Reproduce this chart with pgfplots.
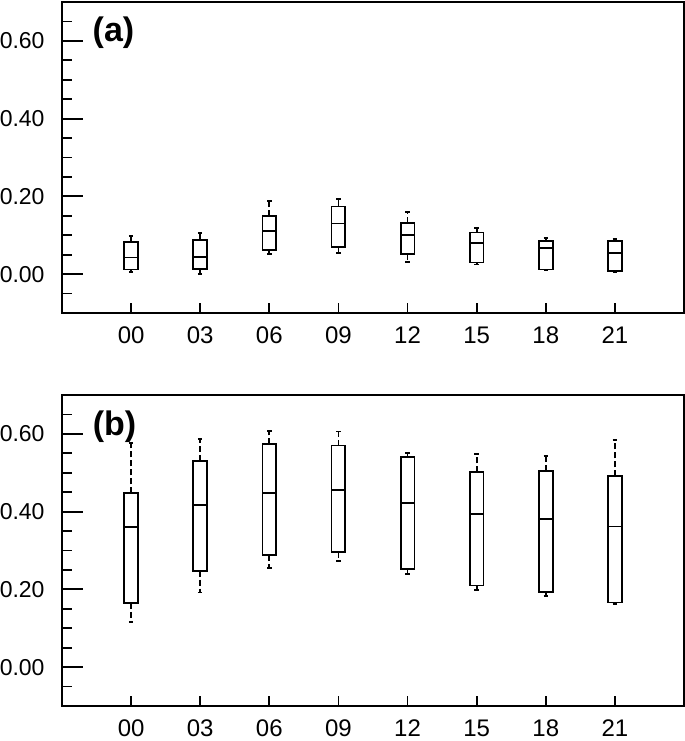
\documentclass[border=0pt]{standalone}
\usepackage{fontspec}
\setmainfont{Liberation Sans}
\usepackage{pgfplots}
\pgfplotsset{compat=1.18}
\usepgfplotslibrary{statistics}
\pgfplotsset{
  panel/.style={
    scale only axis, width=311pt, height=155.5pt,
    xmin=-1, xmax=8, ymin=-0.1, ymax=0.7,
    xtick={0,...,7}, xticklabels={00,03,06,09,12,15,18,21},
    ytick={0,0.2,0.4,0.6},
    minor ytick={-0.05,0.05,0.1,0.15,0.25,0.3,0.35,0.45,0.5,0.55,0.65},
    tick align=inside, tick pos=left,
    major tick length=10.5pt, minor tick length=5.25pt,
    xtick style={/pgfplots/major tick length=5pt},
    tick style={black, line width=0.9pt},
    axis line style={line width=1pt},
    /pgf/number format/assume math mode=true,
    tick label style={font=\fontsize{12}{14}\selectfont},
    y tick label style={/pgf/number format/.cd, fixed, fixed zerofill, precision=2, /tikz/.cd, font=\fontsize{11.5}{14}\selectfont, xshift=-5.2pt},
    x tick label style={yshift=-3.5pt},
    boxplot/draw direction=y,
    boxplot/box extend=0.2, boxplot/whisker extend=0.065,
    boxplot/every whisker/.style={dash pattern=on 3pt off 1.5pt},
  }
}
\newcommand\bx[6]{\addplot[black, line width=0.9pt, boxplot prepared={draw position=#1, lower whisker=#2, lower quartile=#3, median=#4, upper quartile=#5, upper whisker=#6}] coordinates {};}
\begin{document}
\begin{tikzpicture}
\begin{axis}[panel, name=a, at={(0,196.5pt)}, anchor=south west]
\bx{0}{0.006}{0.012}{0.043}{0.083}{0.098}
\bx{1}{0.000}{0.014}{0.045}{0.087}{0.105}
\bx{2}{0.051}{0.063}{0.111}{0.149}{0.188}
\bx{3}{0.055}{0.070}{0.130}{0.174}{0.194}
\bx{4}{0.032}{0.051}{0.101}{0.132}{0.159}
\bx{5}{0.025}{0.030}{0.080}{0.107}{0.119}
\bx{6}{0.010}{0.012}{0.068}{0.086}{0.093}
\bx{7}{0.005}{0.0085}{0.054}{0.085}{0.090}
\node[font=\fontsize{17}{20}\selectfont\bfseries] at (rel axis cs:0.0828,0.902) {(a)};
\end{axis}
\begin{axis}[panel, name=b, at={(0,0)}, anchor=south west]
\bx{0}{0.116}{0.165}{0.360}{0.447}{0.576}
\bx{1}{0.192}{0.248}{0.417}{0.531}{0.586}
\bx{2}{0.254}{0.289}{0.448}{0.573}{0.607}
\bx{3}{0.273}{0.296}{0.455}{0.570}{0.606}
\bx{4}{0.240}{0.253}{0.422}{0.540}{0.550}
\bx{5}{0.198}{0.210}{0.394}{0.501}{0.548}
\bx{6}{0.182}{0.194}{0.381}{0.504}{0.543}
\bx{7}{0.162}{0.166}{0.362}{0.491}{0.585}
\node[font=\fontsize{17}{20}\selectfont\bfseries] at (rel axis cs:0.0844,0.898) {(b)};
\end{axis}
\pgfresetboundingbox
\path (-31pt,-17.5pt) rectangle (311.5pt,353pt);
\end{tikzpicture}
\end{document}
